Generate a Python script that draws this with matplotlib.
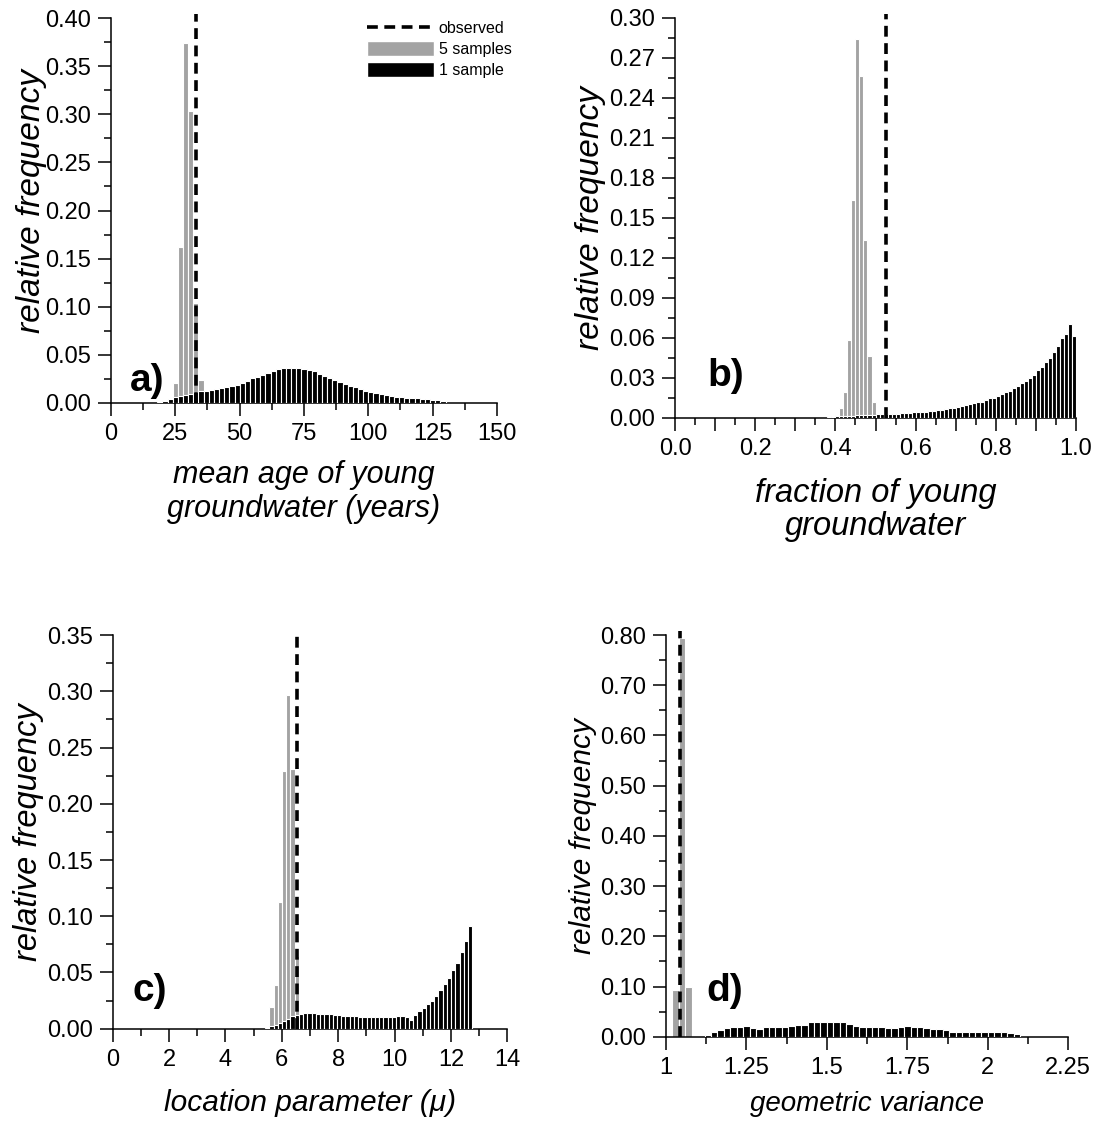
import numpy as np
import matplotlib
matplotlib.use("Agg")
import matplotlib.pyplot as plt
from matplotlib.ticker import MultipleLocator, FuncFormatter
from matplotlib.lines import Line2D
from matplotlib.patches import Patch

plt.rcParams['font.family'] = ['Liberation Sans', 'DejaVu Sans']

GRAY = '#a3a3a3'

# ---- a) mean age of young groundwater ----
a_obs = 33.0
a_gray_x = [25, 27, 29, 31, 33, 35]
a_gray_y = [0.021, 0.162, 0.374, 0.303, 0.104, 0.024]
a_black_x = list(range(19, 130, 2))
a_black_y = [0.0015, 0.002, 0.004, 0.0066, 0.0076, 0.008, 0.009, 0.011, 0.012, 0.0125,
             0.0135, 0.0145, 0.016, 0.017, 0.018, 0.019, 0.021, 0.023, 0.026, 0.027,
             0.029, 0.031, 0.033, 0.035, 0.036, 0.0367, 0.0367, 0.036, 0.0355, 0.034,
             0.033, 0.030, 0.028, 0.026, 0.0235, 0.0215, 0.020, 0.018, 0.0166, 0.0145,
             0.0128, 0.011, 0.010, 0.009, 0.008, 0.007, 0.0066, 0.006, 0.0055, 0.005,
             0.0048, 0.004, 0.0038, 0.0035, 0.003, 0.0025]

# ---- b) fraction of young groundwater ----
b_obs = 0.525
b_gray_x = [0.395, 0.405, 0.415, 0.425, 0.435, 0.445, 0.455, 0.465, 0.475, 0.485, 0.495]
b_gray_y = [0.001, 0.002, 0.007, 0.019, 0.058, 0.163, 0.284, 0.256, 0.133, 0.046, 0.012]
b_black_x = [round(0.385 + 0.01 * i, 3) for i in range(62)]
b_black_y = [0.0005, 0.0008, 0.001, 0.001, 0.0012, 0.0015, 0.0015, 0.0018, 0.002, 0.002,
             0.002, 0.0022, 0.0025, 0.0025, 0.003, 0.003, 0.003, 0.003, 0.0032, 0.0035,
             0.0035, 0.004, 0.004, 0.0042, 0.0045, 0.005, 0.005, 0.0055, 0.006, 0.0065,
             0.007, 0.0075, 0.008, 0.0088, 0.0095, 0.010, 0.011, 0.0115, 0.012, 0.0135,
             0.0145, 0.015, 0.016, 0.0175, 0.019, 0.020, 0.022, 0.024, 0.026, 0.0275,
             0.030, 0.032, 0.036, 0.038, 0.042, 0.045, 0.049, 0.054, 0.0595, 0.063,
             0.070, 0.061]

# ---- c) location parameter ----
c_obs = 6.55
c_gray_x = [5.63, 5.78, 5.93, 6.08, 6.23, 6.38, 6.53]
c_gray_y = [0.019, 0.039, 0.113, 0.229, 0.297, 0.231, 0.065]
c_black_x = [round(5.48 + 0.15 * i, 2) for i in range(49)]
c_black_y = [0.001, 0.002, 0.003, 0.005, 0.007, 0.009, 0.011, 0.012, 0.0135, 0.014,
             0.014, 0.014, 0.0135, 0.013, 0.013, 0.013, 0.0125, 0.012, 0.011, 0.0115,
             0.011, 0.011, 0.0105, 0.0105, 0.010, 0.010, 0.010, 0.010, 0.010, 0.0105,
             0.0105, 0.011, 0.011, 0.0105, 0.008, 0.012, 0.016, 0.018, 0.022, 0.025,
             0.029, 0.034, 0.040, 0.045, 0.052, 0.058, 0.068, 0.078, 0.091]

# ---- d) geometric variance ----
d_obs = 1.045
d_gray_x = [1.03, 1.05, 1.07]
d_gray_y = [0.094, 0.795, 0.0996]
d_black_x = [round(1.13 + 0.02 * i, 2) for i in range(49)]
d_black_y = [0.003, 0.0086, 0.013, 0.017, 0.020, 0.020, 0.021, 0.0166, 0.015, 0.020,
             0.020, 0.020, 0.020, 0.022, 0.024, 0.024, 0.029, 0.030, 0.030, 0.029,
             0.030, 0.0286, 0.025, 0.021, 0.020, 0.020, 0.020, 0.020, 0.018, 0.0175,
             0.019, 0.021, 0.020, 0.019, 0.017, 0.015, 0.015, 0.013, 0.010, 0.010,
             0.0086, 0.0086, 0.0086, 0.0086, 0.0086, 0.0086, 0.0086, 0.0066, 0.0046]


def style_axis(ax, xlim, ylim, xmaj, xmin, ymaj, ymin, yfmt, xfmt):
    ax.set_xlim(*xlim)
    ax.set_ylim(*ylim)
    for s in ['top', 'right']:
        ax.spines[s].set_visible(False)
    for s in ['left', 'bottom']:
        ax.spines[s].set_linewidth(1.1)
    ax.xaxis.set_major_locator(MultipleLocator(xmaj))
    ax.xaxis.set_minor_locator(MultipleLocator(xmin))
    ax.yaxis.set_major_locator(MultipleLocator(ymaj))
    ax.yaxis.set_minor_locator(MultipleLocator(ymin))
    ax.yaxis.set_major_formatter(FuncFormatter(yfmt))
    ax.xaxis.set_major_formatter(FuncFormatter(xfmt))
    ax.tick_params(which='major', direction='out', length=9.5, width=1.1,
                   labelsize=17, pad=5)
    ax.tick_params(which='minor', direction='out', length=5, width=1.1)


def draw_panel(ax, gx, gy, gw, bx, by, bw, obs, label, lpos, ysize):
    ax.bar(gx, gy, width=gw, color=GRAY, edgecolor='white', linewidth=0.8, zorder=2)
    ax.bar(bx, by, width=bw, color='black', edgecolor='white', linewidth=0.8, zorder=3)
    ax.axvline(obs, ymin=0, ymax=1.01, color='black', linewidth=2.6,
               linestyle=(0, (3, 1.8)), clip_on=False, zorder=4)
    ax.text(lpos[0], lpos[1], label, transform=ax.transAxes, fontsize=28,
            fontweight='bold', ha='left', va='baseline')
    ax.set_ylabel('relative frequency', fontsize=ysize, style='italic', labelpad=2)


fig = plt.figure(figsize=(11.01, 11.26), dpi=100)
ax_a = fig.add_axes([0.1008, 0.6421, 0.3506, 0.3419])
ax_b = fig.add_axes([0.6131, 0.6290, 0.3642, 0.3552])
ax_c = fig.add_axes([0.1024, 0.0864, 0.3584, 0.3496])
ax_d = fig.add_axes([0.6049, 0.0793, 0.3654, 0.3567])

f2 = lambda v, p: '%.2f' % v

draw_panel(ax_a, a_gray_x, a_gray_y, 2, a_black_x, a_black_y, 2, a_obs, 'a)', (0.05, 0.03), 24)
style_axis(ax_a, (0, 150), (0, 0.40), 25, 12.5, 0.05, 0.025, f2, lambda v, p: '%d' % v)
ax_a.set_xlabel('mean age of young\ngroundwater (years)', fontsize=22, style='italic',
                linespacing=1.15, labelpad=11)
ax_a.yaxis.set_label_coords(-0.165, 0.525)

handles = [Line2D([0], [0], color='black', linewidth=2.6, linestyle=(0, (3, 1.8))),
           Patch(facecolor=GRAY, edgecolor='white'),
           Patch(facecolor='black', edgecolor='white')]
ax_a.legend(handles, ['observed', '5 samples', '1 sample'], loc='upper left',
            bbox_to_anchor=(0.642, 1.015), frameon=False, fontsize=11.5,
            handlelength=4.2, handleheight=1.1, handletextpad=0.3,
            labelspacing=0.3, borderpad=0)

draw_panel(ax_b, b_gray_x, b_gray_y, 0.01, b_black_x, b_black_y, 0.01, b_obs, 'b)', (0.08, 0.08), 24)
style_axis(ax_b, (0, 1.0), (0, 0.30), 0.1, 0.05, 0.03, 0.015, f2,
           lambda v, p: '%.1f' % v if round(v * 10) % 2 == 0 else '')
ax_b.set_xlabel('fraction of young\ngroundwater', fontsize=23.5, style='italic',
                linespacing=1.1, labelpad=13)

draw_panel(ax_c, c_gray_x, c_gray_y, 0.15, c_black_x, c_black_y, 0.15, c_obs, 'c)', (0.05, 0.07), 23.5)
style_axis(ax_c, (0, 14), (0, 0.35), 2, 1, 0.05, 0.025, f2, lambda v, p: '%d' % v)
ax_c.set_xlabel('location parameter (\u03bc)', fontsize=21.5, style='italic', labelpad=13)

draw_panel(ax_d, d_gray_x, d_gray_y, 0.02, d_black_x, d_black_y, 0.02, d_obs, 'd)', (0.10, 0.09), 21.5)
style_axis(ax_d, (1, 2.25), (0, 0.80), 0.25, 0.125, 0.10, 0.05, f2,
           lambda v, p: '%g' % v)
ax_d.set_xlabel('geometric variance', fontsize=20, style='italic', labelpad=9)

fig.savefig('out.png', dpi=100)
